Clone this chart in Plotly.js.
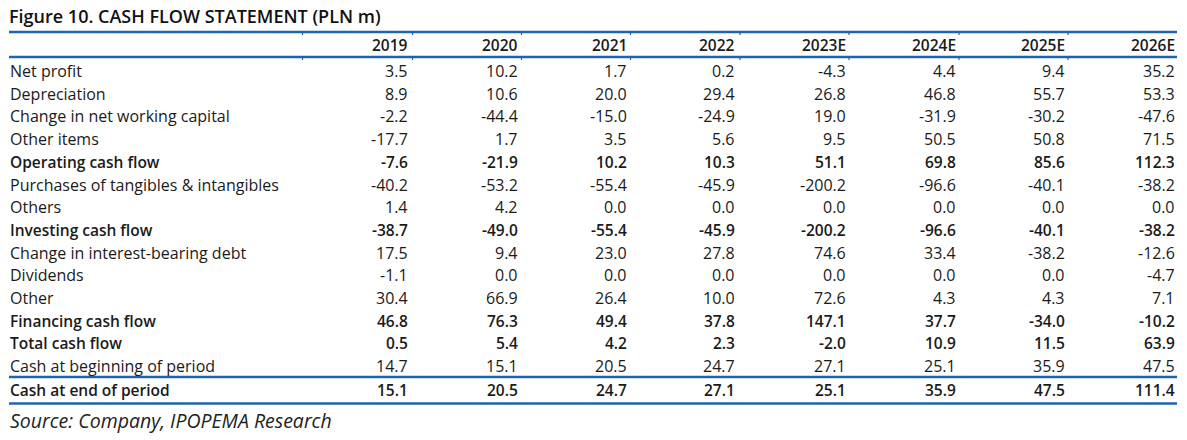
<!DOCTYPE html>
<html>
<head>
<meta charset="utf-8">
<script src="https://cdn.plot.ly/plotly-3.0.1.min.js"></script>
<style>html,body{margin:0;padding:0;background:#fff;}#chart{width:1187px;height:440px;}</style>
</head>
<body>
<div id="chart"></div>
<script>
// ---- data ----
const titleText = 'Figure 10. CASH FLOW STATEMENT (PLN m)';
const sourceText = 'Source: Company, IPOPEMA Research';
const years = ['2019', '2020', '2021', '2022', '2023E', '2024E', '2025E', '2026E'];
const rowLabels = [
  'Net profit', 'Depreciation', 'Change in net working capital', 'Other items',
  'Operating cash flow', 'Purchases of tangibles & intangibles', 'Others',
  'Investing cash flow', 'Change in interest-bearing debt', 'Dividends', 'Other',
  'Financing cash flow', 'Total cash flow', 'Cash at beginning of period', 'Cash at end of period'
];
const netProfit = [3.5, 10.2, 1.7, 0.2, -4.3, 4.4, 9.4, 35.2];
const depreciation = [8.9, 10.6, 20.0, 29.4, 26.8, 46.8, 55.7, 53.3];
const changeNWC = [-2.2, -44.4, -15.0, -24.9, 19.0, -31.9, -30.2, -47.6];
const otherItems = [-17.7, 1.7, 3.5, 5.6, 9.5, 50.5, 50.8, 71.5];
const operatingCF = [-7.6, -21.9, 10.2, 10.3, 51.1, 69.8, 85.6, 112.3];
const purchases = [-40.2, -53.2, -55.4, -45.9, -200.2, -96.6, -40.1, -38.2];
const othersInv = [1.4, 4.2, 0.0, 0.0, 0.0, 0.0, 0.0, 0.0];
const investingCF = [-38.7, -49.0, -55.4, -45.9, -200.2, -96.6, -40.1, -38.2];
const changeDebt = [17.5, 9.4, 23.0, 27.8, 74.6, 33.4, -38.2, -12.6];
const dividends = [-1.1, 0.0, 0.0, 0.0, 0.0, 0.0, 0.0, -4.7];
const otherFin = [30.4, 66.9, 26.4, 10.0, 72.6, 4.3, 4.3, 7.1];
const financingCF = [46.8, 76.3, 49.4, 37.8, 147.1, 37.7, -34.0, -10.2];
const totalCF = [0.5, 5.4, 4.2, 2.3, -2.0, 10.9, 11.5, 63.9];
const cashBegin = [14.7, 15.1, 20.5, 24.7, 27.1, 25.1, 35.9, 47.5];
const cashEnd = [15.1, 20.5, 24.7, 27.1, 25.1, 35.9, 47.5, 111.4];
const rowValues = [netProfit, depreciation, changeNWC, otherItems, operatingCF, purchases,
  othersInv, investingCF, changeDebt, dividends, otherFin, financingCF, totalCF, cashBegin, cashEnd];
const boldRows = ['Operating cash flow', 'Investing cash flow', 'Financing cash flow', 'Total cash flow', 'Cash at end of period'];

// ---- layout constants ----
const W = 1187, H = 440;
const FONT = '"Open Sans", "Noto Sans", sans-serif';
const TXT = '#1a1a1a';
const BLUE = '#1f63ad';
const leftX = 9, lineRight = 1177;
const colRight = [409, 519, 628, 736, 847, 957, 1066, 1176];
const colBounds = [302.5, 412.5, 521.5, 630.5, 740, 849, 959, 1068];
const headerY = 45, firstRowY = 71, rowH = 22.7, lastRowY = 390;
const fsReg = 16, fsBold = 15.5, boldW = 600;

const ann = [];
function addText(x, y, text, anchor, bold, font) {
  ann.push({
    xref: 'x', yref: 'y', x: x, y: y, text: text, showarrow: false,
    xanchor: anchor, yanchor: 'middle', borderpad: 0,
    font: font || {family: FONT, size: bold ? fsBold : fsReg, color: TXT, weight: bold ? boldW : 400}
  });
}
addText(leftX - 1, 16, titleText, 'left', false, {family: FONT, size: 18, color: '#111', weight: 600});
years.forEach((yr, j) => addText(colRight[j], headerY, yr, 'right', true));
rowLabels.forEach((lab, i) => {
  const y = i === rowLabels.length - 1 ? lastRowY : firstRowY + i * rowH;
  const b = boldRows.includes(lab);
  addText(leftX, y, lab, 'left', b);
  rowValues[i].forEach((v, j) => addText(colRight[j], y, v.toFixed(1), 'right', b));
});
addText(leftX, 420, sourceText, 'left', false, {family: FONT, size: 19.5, color: '#222', style: 'italic'});

const shapes = [];
[32, 57, 377, 403.5].forEach(y => shapes.push({type: 'line', xref: 'x', yref: 'y', x0: leftX, x1: lineRight, y0: y, y1: y, line: {color: BLUE, width: 2.5}}));
colBounds.forEach(x => {
  shapes.push({type: 'line', xref: 'x', yref: 'y', x0: x, x1: x, y0: 32, y1: 35, line: {color: BLUE, width: 1.2}});
  shapes.push({type: 'line', xref: 'x', yref: 'y', x0: x, x1: x, y0: 57, y1: 60, line: {color: BLUE, width: 1.2}});
});

const layout = {
  width: W, height: H, margin: {l: 0, r: 0, t: 0, b: 0},
  paper_bgcolor: '#fff', plot_bgcolor: '#fff', showlegend: false,
  xaxis: {range: [0, W], visible: false, fixedrange: true},
  yaxis: {range: [H, 0], visible: false, fixedrange: true},
  annotations: ann, shapes: shapes
};
Plotly.newPlot('chart', [{x: [], y: [], type: 'scatter', mode: 'markers', hoverinfo: 'skip'}], layout, {staticPlot: true, displayModeBar: false});
</script>
</body>
</html>
